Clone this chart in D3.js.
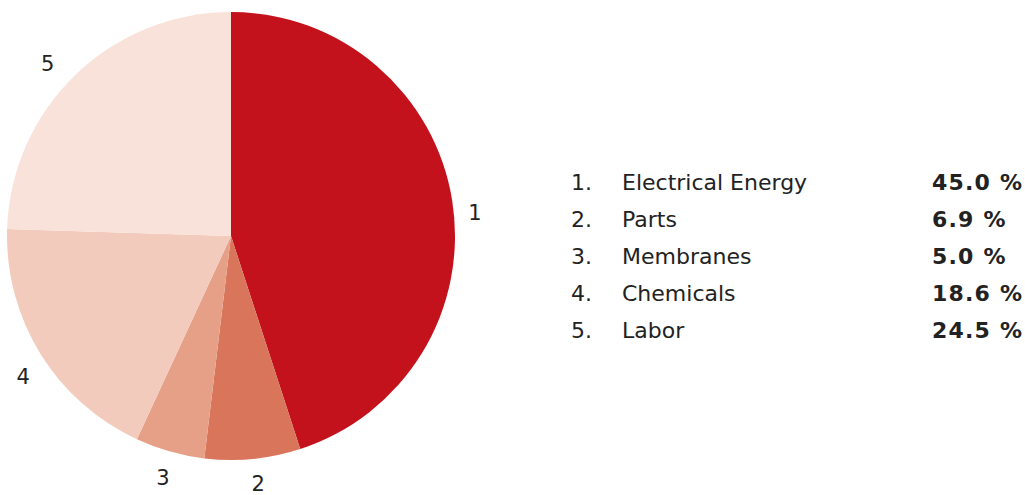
<!DOCTYPE html>
<html>
<head>
<meta charset="utf-8">
<script src="https://cdn.jsdelivr.net/npm/d3@7/dist/d3.min.js"></script>
<style>
  html, body { margin: 0; padding: 0; background: #fff; }
  svg { display: block; }
  text { font-family: "DejaVu Sans", Verdana, sans-serif; fill: #222; }
</style>
</head>
<body>
<svg id="chart" width="1025" height="495"></svg>
<script>
const ids = ["1", "2", "3", "4", "5"];
const categories = ["Electrical Energy", "Parts", "Membranes", "Chemicals", "Labor"];
const values = [45.0, 6.9, 5.0, 18.6, 24.5];
const valueLabels = ["45.0 %", "6.9 %", "5.0 %", "18.6 %", "24.5 %"];
const colors = ["#C3121C", "#D9755B", "#E6A088", "#F2CBBC", "#F8E2D9"];

// layout-only nudges for pie labels (dx, dy)
const labelNudge = [[-2, 16], [3, 0], [0, 2], [4, 10], [-10, 7]];

const svg = d3.select("#chart");
const cx = 231, cy = 236, r = 224, labelR = 249;

const pie = d3.pie().sort(null).value(d => d.v);
const data = pie(values.map((v, i) => ({ v, i })));
const arc = d3.arc().innerRadius(0).outerRadius(r);
const labelArc = d3.arc().innerRadius(labelR).outerRadius(labelR);

const g = svg.append("g").attr("transform", `translate(${cx},${cy})`);
g.selectAll("path").data(data).join("path")
  .attr("d", arc)
  .attr("fill", d => colors[d.data.i]);

g.selectAll("text.lbl").data(data).join("text")
  .attr("class", "lbl")
  .attr("transform", d => {
    const c = labelArc.centroid(d);
    const n = labelNudge[d.data.i];
    return `translate(${c[0] + n[0]},${c[1] + n[1]})`;
  })
  .attr("text-anchor", "middle")
  .attr("dominant-baseline", "central")
  .style("font-size", "21px")
  .text(d => ids[d.data.i]);

const rowY = d3.scalePoint().domain(d3.range(categories.length)).range([182, 330]);
const leg = svg.append("g");
const rows = leg.selectAll("g").data(d3.range(categories.length)).join("g")
  .attr("transform", i => `translate(0,${rowY(i)})`);
rows.append("text").attr("x", 571).attr("dominant-baseline", "central")
  .style("font-size", "22px").text(i => ids[i] + ".");
rows.append("text").attr("x", 622).attr("dominant-baseline", "central")
  .style("font-size", "22px").text(i => categories[i]);
rows.append("text").attr("x", 932).attr("dominant-baseline", "central")
  .style("font-size", "22px").style("font-weight", "bold")
  .style("letter-spacing", "1.2px").text(i => valueLabels[i]);
</script>
</body>
</html>
